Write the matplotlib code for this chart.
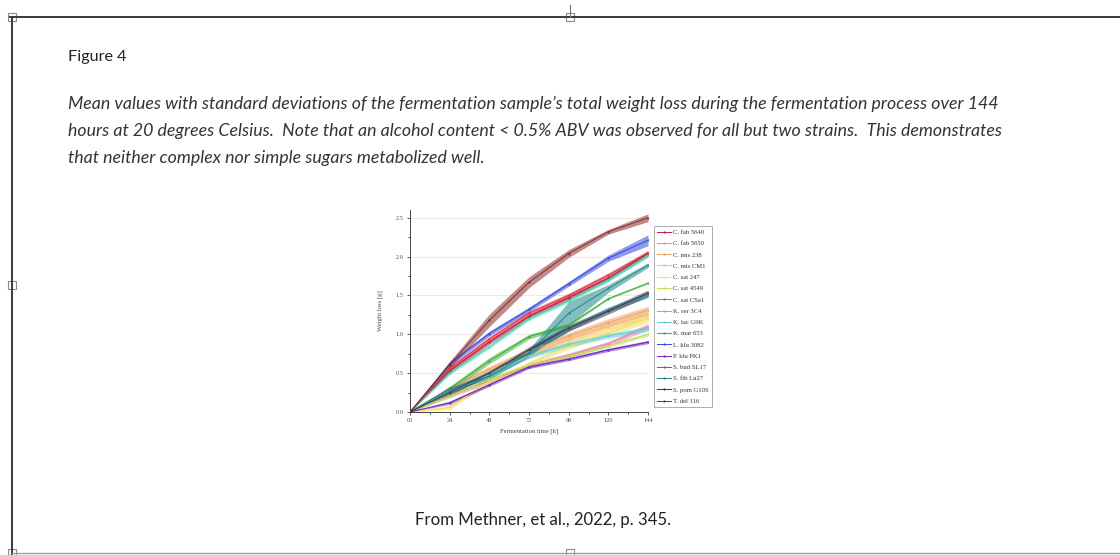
import numpy as np
import matplotlib
matplotlib.use("Agg")
import matplotlib.pyplot as plt
from matplotlib.patches import Rectangle
from matplotlib.lines import Line2D

# sample times (h)
hours = [0, 24, 48, 72, 96, 120, 144]

strains = ["C. fab 5640", "C. fab 5650", "C. mis 238", "C. mis CM1", "C. sat 247",
           "C. sat 4549", "C. sat CSa1", "K. ser 3C4", "K. lac G9K", "K. mar 653",
           "L. klu 3082", "P. klu PK1", "S. bud SL17", "S. fib Lu27", "S. pom G10S",
           "T. del 116"]

colors = ["#b0204a", "#ec7fb0", "#f2a060", "#f5c06a", "#f2e060",
          "#b8e050", "#3cb030", "#38e0b0", "#60d0e0", "#3a98c0",
          "#3048e0", "#7020c0", "#e8303e", "#208888", "#383840",
          "#8a2a2a"]

# mean weight loss [g]
c_fab_5640 = [0, 0.53, 0.90, 1.23, 1.47, 1.72, 2.04]
c_fab_5650 = [0, 0.22, 0.40, 0.60, 0.73, 0.88, 1.10]
c_mis_238 = [0, 0.30, 0.55, 0.78, 0.98, 1.15, 1.31]
c_mis_cm1 = [0, 0.25, 0.50, 0.72, 0.93, 1.10, 1.25]
c_sat_247 = [0, 0.06, 0.40, 0.62, 0.85, 1.02, 1.20]
c_sat_4549 = [0, 0.20, 0.42, 0.60, 0.72, 0.85, 1.00]
c_sat_csa1 = [0, 0.30, 0.66, 0.97, 1.12, 1.46, 1.66]
k_ser_3c4 = [0, 0.50, 0.84, 1.20, 1.43, 1.70, 2.02]
k_lac_g9k = [0, 0.25, 0.48, 0.72, 0.87, 0.98, 1.07]
k_mar_653 = [0, 0.26, 0.50, 0.76, 1.07, 1.32, 1.50]
l_klu_3082 = [0, 0.62, 1.01, 1.32, 1.65, 1.98, 2.21]
p_klu_pk1 = [0, 0.12, 0.35, 0.58, 0.68, 0.80, 0.90]
s_bud_sl17 = [0, 0.56, 0.94, 1.27, 1.50, 1.76, 2.05]
s_fib_lu27 = [0, 0.30, 0.46, 0.76, 1.27, 1.59, 1.89]
s_pom_g10s = [0, 0.25, 0.50, 0.80, 1.08, 1.30, 1.53]
t_del_116 = [0, 0.61, 1.18, 1.67, 2.04, 2.32, 2.50]

# standard deviations [g]
sd_c_fab_5640 = [0, 0.03, 0.03, 0.03, 0.03, 0.03, 0.03]
sd_c_fab_5650 = [0, 0.03, 0.03, 0.03, 0.03, 0.03, 0.04]
sd_c_mis_238 = [0, 0.03, 0.04, 0.04, 0.04, 0.05, 0.05]
sd_c_mis_cm1 = [0, 0.03, 0.03, 0.03, 0.04, 0.04, 0.05]
sd_c_sat_247 = [0, 0.03, 0.03, 0.03, 0.04, 0.04, 0.05]
sd_c_sat_4549 = [0, 0.02, 0.02, 0.02, 0.02, 0.02, 0.02]
sd_c_sat_csa1 = [0, 0.03, 0.04, 0.03, 0.02, 0.01, 0.01]
sd_k_ser_3c4 = [0, 0.02, 0.02, 0.02, 0.02, 0.02, 0.03]
sd_k_lac_g9k = [0, 0.03, 0.03, 0.03, 0.03, 0.03, 0.03]
sd_k_mar_653 = [0, 0.03, 0.03, 0.03, 0.03, 0.03, 0.03]
sd_l_klu_3082 = [0, 0.03, 0.03, 0.03, 0.03, 0.04, 0.07]
sd_p_klu_pk1 = [0, 0.02, 0.02, 0.02, 0.02, 0.02, 0.02]
sd_s_bud_sl17 = [0, 0.03, 0.03, 0.03, 0.03, 0.03, 0.03]
sd_s_fib_lu27 = [0, 0.03, 0.04, 0.05, 0.15, 0.05, 0.03]
sd_s_pom_g10s = [0, 0.03, 0.03, 0.04, 0.04, 0.04, 0.04]
sd_t_del_116 = [0, 0.04, 0.08, 0.07, 0.05, 0.03, 0.05]

means = [c_fab_5640, c_fab_5650, c_mis_238, c_mis_cm1, c_sat_247, c_sat_4549,
         c_sat_csa1, k_ser_3c4, k_lac_g9k, k_mar_653, l_klu_3082, p_klu_pk1,
         s_bud_sl17, s_fib_lu27, s_pom_g10s, t_del_116]
sds = [sd_c_fab_5640, sd_c_fab_5650, sd_c_mis_238, sd_c_mis_cm1, sd_c_sat_247,
       sd_c_sat_4549, sd_c_sat_csa1, sd_k_ser_3c4, sd_k_lac_g9k, sd_k_mar_653,
       sd_l_klu_3082, sd_p_klu_pk1, sd_s_bud_sl17, sd_s_fib_lu27, sd_s_pom_g10s,
       sd_t_del_116]

W, H = 1120, 555
fig = plt.figure(figsize=(W / 100, H / 100), dpi=100)


def fx(px):
    return px / W


def fy(py):
    return 1 - py / H


# document frame + handles
frame_color = "#3a3a3a"
fig.add_artist(Line2D([fx(10), 1], [fy(17), fy(17)], color=frame_color, lw=1.4))
fig.add_artist(Line2D([fx(12), fx(12)], [fy(17), 0], color=frame_color, lw=1.4))
fig.add_artist(Line2D([fx(12), 1], [fy(553), fy(553)], color="#9aa0a6", lw=1.0))
fig.add_artist(Line2D([fx(570), fx(570)], [fy(5), fy(17)], color="#777777", lw=0.8))
for hx, hy in [(12, 17), (570, 17), (12, 285), (12, 553), (570, 553)]:
    fig.add_artist(Rectangle((fx(hx - 4), fy(hy + 4)), 8 / W, 8 / H,
                             facecolor="white", edgecolor="#8a8a8a", lw=0.8))

# caption text
doc_font = ["Lato", "DejaVu Sans"]
fig.text(fx(68), fy(57), "Figure 4", family=doc_font, fontsize=11.6,
         color="#222222", va="center")
caption = [
    "Mean values with standard deviations of the fermentation sample\u2019s total weight loss during the fermentation process over 144",
    "hours at 20 degrees Celsius.  Note that an alcohol content < 0.5% ABV was observed for all but two strains.  This demonstrates",
    "that neither complex nor simple sugars metabolized well.",
]
for i, line in enumerate(caption):
    fig.text(fx(68), fy(104 + 27 * i), line, family=doc_font, style="italic",
             fontsize=12.75, color="#333333", va="center")
fig.text(fx(543), fy(520), "From Methner, et al., 2022, p. 345.", family=doc_font,
         fontsize=12.1, color="#222222", va="center", ha="center")

# the chart
ax = fig.add_axes([fx(410), fy(412), fx(648) - fx(410), fy(210) - fy(412)])
serif = "Liberation Serif"
t = np.array(hours)
for name, c, m, s in zip(strains, colors, means, sds):
    m = np.array(m)
    s = np.array(s)
    ax.fill_between(t, m - s, m + s, color=c, alpha=0.55, lw=0)
    ax.plot(t, m, color=c, lw=0.7, marker="o", ms=0.6, label=name)

ax.set_xlim(0, 144)
ax.set_ylim(0, 2.6)
ax.set_xticks(hours)
ax.set_xticklabels(["00"] + [str(h) for h in hours[1:]])
ax.set_xticks(np.arange(12, 144, 24), minor=True)
ax.set_yticks([0, 0.5, 1.0, 1.5, 2.0, 2.5])
ax.set_yticklabels(["0.0", "0.5", "1.0", "1.5", "2.0", "2.5"])
ax.set_yticks(np.arange(0.25, 2.6, 0.5), minor=True)
ax.tick_params(labelsize=4.6, length=2.5, width=0.6, pad=2, color="#444444", labelcolor="#555555")
ax.tick_params(which="minor", length=1.5, width=0.5)
for lab in ax.get_xticklabels() + ax.get_yticklabels():
    lab.set_family(serif)
ax.grid(axis="y", color="#e6e6e6", lw=0.6)
ax.set_axisbelow(True)
for side in ["top", "right"]:
    ax.spines[side].set_visible(False)
for side in ["left", "bottom"]:
    ax.spines[side].set_linewidth(0.7)
    ax.spines[side].set_color("#444444")
ax.set_xlabel("Fermentation time [h]", family=serif, fontsize=4.8, color="#444444", labelpad=4)
ax.set_ylabel("Weight loss [g]", family=serif, fontsize=4.8, color="#444444", labelpad=9)

leg = ax.legend(loc="upper left", bbox_to_anchor=(fx(654), fy(226)),
                bbox_transform=fig.transFigure, prop={"family": serif, "size": 4.8},
                handlelength=2.0, handletextpad=0.3, labelspacing=0.84,
                borderpad=0.5, borderaxespad=0, frameon=True, fancybox=False)
leg.get_frame().set_edgecolor("#888888")
leg.get_frame().set_linewidth(0.6)
for txt in leg.get_texts():
    txt.set_color("#333333")

fig.savefig("out.png", dpi=100)
